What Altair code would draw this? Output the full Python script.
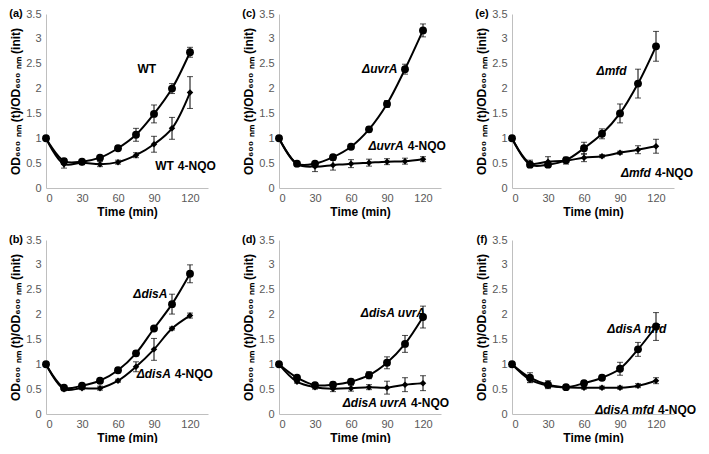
import altair as alt
import pandas as pd

times = [0, 15, 30, 45, 60, 75, 90, 105, 120]

# (a) WT
a_ctrl = [1.00, 0.54, 0.53, 0.61, 0.80, 1.07, 1.49, 2.00, 2.73]
a_ctrl_err = [0.02, 0.05, 0.03, 0.04, 0.04, 0.13, 0.18, 0.10, 0.10]
a_nqo = [1.00, 0.48, 0.51, 0.48, 0.52, 0.66, 0.88, 1.20, 1.92]
a_nqo_err = [0.02, 0.08, 0.04, 0.05, 0.04, 0.05, 0.16, 0.22, 0.32]

# (b) ΔdisA
b_ctrl = [1.00, 0.53, 0.57, 0.67, 0.88, 1.22, 1.72, 2.21, 2.82]
b_ctrl_err = [0.02, 0.03, 0.03, 0.04, 0.05, 0.05, 0.04, 0.20, 0.18]
b_nqo = [1.00, 0.50, 0.52, 0.52, 0.67, 0.95, 1.30, 1.72, 1.98]
b_nqo_err = [0.02, 0.03, 0.03, 0.04, 0.03, 0.10, 0.22, 0.03, 0.05]

# (c) ΔuvrA
c_ctrl = [1.00, 0.49, 0.49, 0.62, 0.83, 1.18, 1.69, 2.39, 3.17]
c_ctrl_err = [0.02, 0.03, 0.04, 0.04, 0.04, 0.05, 0.07, 0.10, 0.13]
c_nqo = [1.00, 0.48, 0.43, 0.46, 0.49, 0.51, 0.53, 0.54, 0.58]
c_nqo_err = [0.02, 0.03, 0.10, 0.10, 0.08, 0.07, 0.06, 0.06, 0.05]

# (d) ΔdisA uvrA
d_ctrl = [1.00, 0.73, 0.58, 0.59, 0.65, 0.78, 1.03, 1.41, 1.95]
d_ctrl_err = [0.02, 0.04, 0.04, 0.05, 0.05, 0.07, 0.12, 0.17, 0.22]
d_nqo = [1.00, 0.65, 0.54, 0.51, 0.52, 0.54, 0.53, 0.59, 0.62]
d_nqo_err = [0.02, 0.03, 0.04, 0.06, 0.06, 0.05, 0.13, 0.14, 0.15]

# (e) Δmfd
e_ctrl = [1.00, 0.47, 0.47, 0.56, 0.80, 1.09, 1.50, 2.10, 2.85]
e_ctrl_err = [0.02, 0.06, 0.04, 0.04, 0.12, 0.10, 0.19, 0.29, 0.30]
e_nqo = [1.00, 0.50, 0.53, 0.55, 0.61, 0.64, 0.71, 0.77, 0.84]
e_nqo_err = [0.02, 0.06, 0.10, 0.07, 0.08, 0.03, 0.03, 0.08, 0.14]

# (f) ΔdisA mfd
f_ctrl = [1.00, 0.73, 0.59, 0.54, 0.62, 0.73, 0.91, 1.30, 1.76]
f_ctrl_err = [0.02, 0.10, 0.08, 0.03, 0.04, 0.05, 0.13, 0.14, 0.28]
f_nqo = [1.00, 0.69, 0.57, 0.54, 0.53, 0.53, 0.53, 0.57, 0.67]
f_nqo_err = [0.02, 0.05, 0.04, 0.03, 0.03, 0.03, 0.03, 0.04, 0.06]

panel_letters = ["(a)", "(b)", "(c)", "(d)", "(e)", "(f)"]
strain_names = ["WT", "ΔdisA", "ΔuvrA", "ΔdisA uvrA", "Δmfd", "ΔdisA mfd"]
strain_italic = [False, True, True, True, True, True]
treatment_name = "4-NQO"

# label anchor points in data units (minutes, OD ratio)
main_label_x = [84, 87, 84, 95, 83, 104]
main_label_y = [2.39, 2.42, 2.39, 2.04, 2.35, 1.70]
nqo_label_split_x = [106.5, 104, 104, 106.7, 115.8, 118.4]
nqo_label_y = [0.44, 0.81, 0.84, 0.23, 0.31, 0.08]

ctrl_series = [a_ctrl, b_ctrl, c_ctrl, d_ctrl, e_ctrl, f_ctrl]
ctrl_errs = [a_ctrl_err, b_ctrl_err, c_ctrl_err, d_ctrl_err, e_ctrl_err, f_ctrl_err]
nqo_series = [a_nqo, b_nqo, c_nqo, d_nqo, e_nqo, f_nqo]
nqo_errs = [a_nqo_err, b_nqo_err, c_nqo_err, d_nqo_err, e_nqo_err, f_nqo_err]

x_ticks = [0, 30, 60, 90, 120]
y_ticks = [0, 0.5, 1, 1.5, 2, 2.5, 3, 3.5]

FONT = "Liberation Sans"
W, H = 162, 174
YTITLE = "OD₆₀₀ ₙₘ (t)/OD₆₀₀ ₙₘ (init)"

xscale = alt.Scale(domain=[0, 135], nice=False, zero=True)
yscale = alt.Scale(domain=[0, 3.5], nice=False)
xaxis = alt.Axis(values=x_ticks, title="Time (min)", labelOverlap=False)
yaxis = alt.Axis(values=y_ticks, format="~g", title=YTITLE, labelOverlap=False)


def X(field):
    return alt.X(field, type="quantitative", scale=xscale, axis=xaxis)


def Y(field):
    return alt.Y(field, type="quantitative", scale=yscale, axis=yaxis)


def panel(i):
    rows = []
    for t, v, e in zip(times, ctrl_series[i], ctrl_errs[i]):
        rows.append({"t": t, "v": v, "lo": v - e, "hi": v + e, "s": "ctrl"})
    for t, v, e in zip(times, nqo_series[i], nqo_errs[i]):
        rows.append({"t": t, "v": v, "lo": v - e, "hi": v + e, "s": "nqo"})
    df = pd.DataFrame(rows)
    base = alt.Chart(df)
    lines = base.mark_line(color="black", strokeWidth=2, interpolate="catmull-rom").encode(
        x=X("t"), y=Y("v"), detail="s:N")
    rules = base.mark_rule(color="black", strokeWidth=1).encode(
        x=X("t"), y=Y("lo"), y2="hi:Q")
    cap_lo = base.mark_tick(color="black", orient="horizontal", size=6, thickness=1).encode(
        x=X("t"), y=Y("lo"))
    cap_hi = base.mark_tick(color="black", orient="horizontal", size=6, thickness=1).encode(
        x=X("t"), y=Y("hi"))
    circles = base.transform_filter(alt.datum.s == "ctrl").mark_circle(
        color="black", size=62, opacity=1).encode(x=X("t"), y=Y("v"))
    diamonds = base.transform_filter(alt.datum.s == "nqo").mark_point(
        shape="diamond", filled=True, color="black", size=42, opacity=1).encode(
        x=X("t"), y=Y("v"))

    style = "italic" if strain_italic[i] else "normal"
    main_df = pd.DataFrame({"x": [main_label_x[i]], "y": [main_label_y[i]],
                            "txt": [strain_names[i]]})
    main_lab = alt.Chart(main_df).mark_text(
        font=FONT, fontSize=12, fontWeight="bold", fontStyle=style, align="center",
        baseline="middle", color="black").encode(x=X("x"), y=Y("y"), text="txt:N")
    nqo_df = pd.DataFrame({"x": [nqo_label_split_x[i]], "y": [nqo_label_y[i]],
                           "a": [strain_names[i]], "b": [treatment_name]})
    nqo_a = alt.Chart(nqo_df).mark_text(
        font=FONT, fontSize=12, fontWeight="bold", fontStyle=style, align="right",
        baseline="middle", color="black").encode(x=X("x"), y=Y("y"), text="a:N")
    nqo_b = alt.Chart(nqo_df).mark_text(
        font=FONT, fontSize=12, fontWeight="bold", align="left", dx=4,
        baseline="middle", color="black").encode(x=X("x"), y=Y("y"), text="b:N")
    letter_df = pd.DataFrame({"txt": [panel_letters[i]]})
    letter = alt.Chart(letter_df).mark_text(
        font=FONT, fontSize=11, fontWeight="bold", align="center", baseline="middle",
        color="black").encode(x=alt.value(-30), y=alt.value(0), text="txt:N")

    return alt.layer(lines, rules, cap_lo, cap_hi, circles, diamonds,
                     main_lab, nqo_a, nqo_b, letter).properties(width=W, height=H)


order = [0, 2, 4, 1, 3, 5]
chart = alt.concat(*[panel(i) for i in order], columns=3, bounds="flush",
                   spacing={"row": 52, "column": 71}).properties(padding=0).configure_view(
    stroke=None
).configure_axis(
    grid=False, ticks=False, domainColor="#bfbfbf", domainWidth=1,
    labelFont=FONT, labelFontSize=11, labelColor="#595959",
    titleFont=FONT, titleFontSize=12, titleFontWeight="bold", titleColor="black",
).configure_axisY(labelPadding=5, titlePadding=3).configure_axisX(
    labelPadding=4, titlePadding=3)

chart.save("out.html", embed_options={"renderer": "svg", "actions": False})
